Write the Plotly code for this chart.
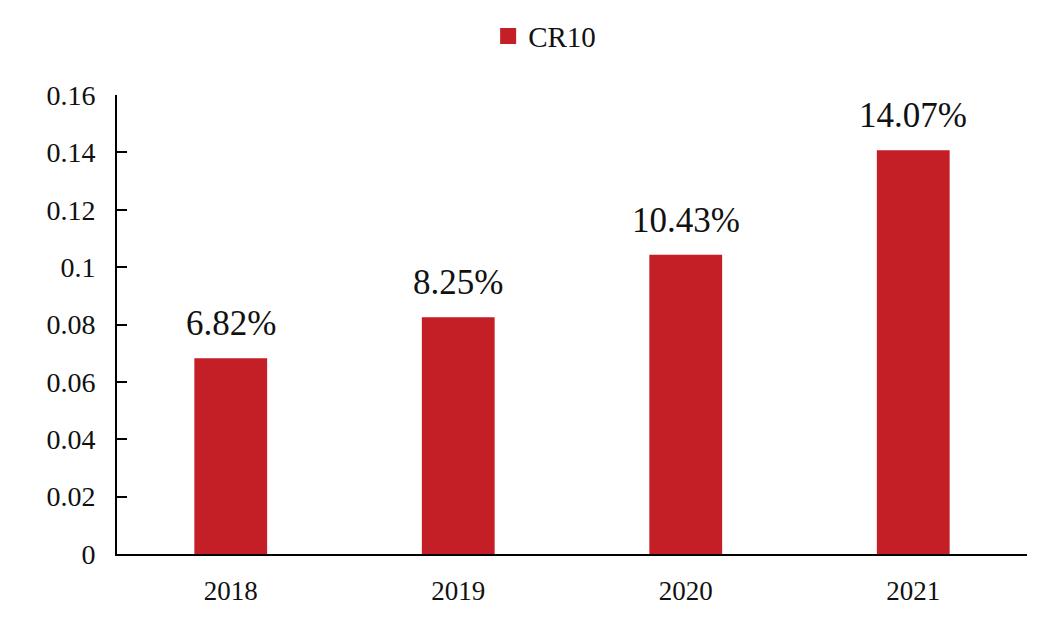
import plotly.graph_objects as go

# data
years = ['2018', '2019', '2020', '2021']
cr10 = [0.0682, 0.0825, 0.1043, 0.1407]
cr10_labels = ['6.82%', '8.25%', '10.43%', '14.07%']

bar_color = '#C41E26'
serif = 'Liberation Serif, Times New Roman, serif'

fig = go.Figure()
fig.add_trace(go.Bar(x=years, y=cr10, name='CR10', marker_color=bar_color,
                     marker_line_width=0, showlegend=False))
# legend-only entry so the swatch can be bigger
fig.add_trace(go.Scatter(x=[None], y=[None], mode='markers', name='CR10',
                         marker=dict(symbol='square', size=22, color=bar_color)))

# value labels sit well above the bars (category axis -> use the index)
for i, (val, lab) in enumerate(zip(cr10, cr10_labels)):
    fig.add_annotation(x=i, y=val, text=lab, showarrow=False, yanchor='bottom',
                       yshift=13, font=dict(family=serif, size=35, color='#111111'))

fig.update_layout(
    width=1032, height=612,
    margin=dict(l=109, r=13, t=87, b=66),
    paper_bgcolor='white', plot_bgcolor='white',
    bargap=0.68,
    showlegend=True,
    legend=dict(orientation='h', xref='container', yref='container',
                x=0.52, xanchor='center', y=0.954, yanchor='middle',
                font=dict(family=serif, size=29, color='#111111')),
    font=dict(family=serif, color='#111111'),
)
fig.update_xaxes(type='category', range=[-0.5, 3.5], showline=True, linecolor='black',
                 linewidth=2, ticks='', showgrid=False, ticklabelstandoff=12,
                 tickfont=dict(family=serif, size=27, color='#111111'))
fig.update_yaxes(range=[0, 0.16], dtick=0.02, tickformat='~g', showline=True,
                 linecolor='black', linewidth=2, ticks='inside', ticklen=10,
                 tickcolor='black', tickwidth=2, showgrid=False, zeroline=False,
                 ticksuffix='  ',
                 tickfont=dict(family=serif, size=28, color='#111111'))

fig.write_html('out.html')
